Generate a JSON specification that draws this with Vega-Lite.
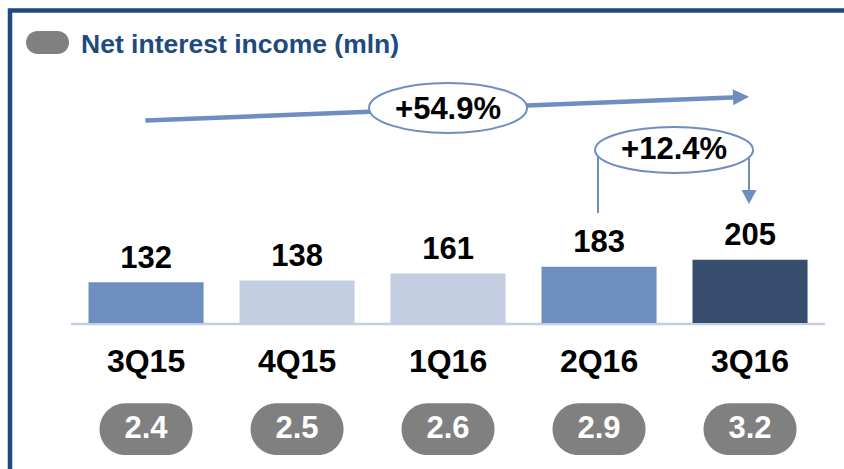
{
  "$schema": "https://vega.github.io/schema/vega-lite/v6.json",
  "width": 834,
  "height": 458.5,
  "padding": {"left": 10, "top": 10.5, "right": 0, "bottom": 0},
  "autosize": {"type": "none"},
  "background": "white",
  "config": {
    "view": {"stroke": "#1f4a7d", "strokeWidth": 4.5, "strokeDash": [834, 1292.5, 458.5]},
    "text": {"font": "Liberation Sans", "fontWeight": "bold"}
  },
  "datasets": {
    "nii": [
      {"quarter": "3Q15", "value": 132, "nim": 2.4},
      {"quarter": "4Q15", "value": 138, "nim": 2.5},
      {"quarter": "1Q16", "value": 161, "nim": 2.6},
      {"quarter": "2Q16", "value": 183, "nim": 2.9},
      {"quarter": "3Q16", "value": 205, "nim": 3.2}
    ]
  },
  "layer": [
    {
      "data": {"values": [{}]},
      "mark": {"type": "rule", "color": "#c3cee2", "strokeWidth": 2.5},
      "encoding": {
        "x": {"datum": "3Q15", "type": "nominal", "bandPosition": -0.152,
          "scale": {"domain": ["3Q15", "4Q15", "1Q16", "2Q16", "3Q16"], "paddingInner": 0.238, "paddingOuter": 0.3807, "align": 0.683}, "axis": null},
        "x2": {"datum": "3Q16", "bandPosition": 1.152},
        "y": {"datum": -3.25, "type": "quantitative", "scale": {"domain": [-474.03, 1014.61], "nice": false, "zero": false}, "axis": null}
      }
    },
    {
      "data": {"name": "nii"},
      "mark": {"type": "bar"},
      "encoding": {
        "x": {"field": "quarter", "type": "nominal",
          "scale": {"domain": ["3Q15", "4Q15", "1Q16", "2Q16", "3Q16"], "paddingInner": 0.238, "paddingOuter": 0.3807, "align": 0.683}, "axis": null},
        "y": {"field": "value", "type": "quantitative", "scale": {"domain": [-474.03, 1014.61], "nice": false, "zero": false}, "axis": null},
        "color": {"field": "quarter", "type": "nominal", "legend": null,
          "scale": {"domain": ["3Q15", "4Q15", "1Q16", "2Q16", "3Q16"], "range": ["#6d8ebf", "#c3cee2", "#c3cee2", "#6d8ebf", "#374d6e"]}}
      }
    },
    {
      "data": {"name": "nii"},
      "mark": {"type": "text", "fontSize": 31, "color": "#000000", "baseline": "alphabetic", "dy": -14.6},
      "encoding": {
        "x": {"field": "quarter", "type": "nominal"},
        "y": {"field": "value", "type": "quantitative"},
        "text": {"field": "value", "type": "quantitative"}
      }
    },
    {
      "data": {"name": "nii"},
      "mark": {"type": "text", "fontSize": 32, "color": "#000000", "baseline": "alphabetic"},
      "encoding": {
        "x": {"field": "quarter", "type": "nominal"},
        "y": {"datum": -160.7, "type": "quantitative"},
        "text": {"field": "quarter", "type": "nominal"}
      }
    },
    {
      "data": {"name": "nii"},
      "mark": {"type": "bar", "width": 93, "cornerRadius": 25.8, "color": "#808080"},
      "encoding": {
        "x": {"field": "quarter", "type": "nominal"},
        "y": {"datum": -260.7, "type": "quantitative"},
        "y2": {"datum": -428.6}
      }
    },
    {
      "data": {"name": "nii"},
      "mark": {"type": "text", "fontSize": 31, "color": "#ffffff", "baseline": "alphabetic"},
      "encoding": {
        "x": {"field": "quarter", "type": "nominal"},
        "y": {"datum": -374.4, "type": "quantitative"},
        "text": {"field": "nim", "type": "quantitative", "format": ".1f"}
      }
    },
    {
      "data": {"values": [{}]},
      "mark": {"type": "rule", "color": "#6d8ebf", "strokeWidth": 4.5, "strokeCap": "butt"},
      "encoding": {
        "x": {"datum": "3Q15", "type": "nominal", "bandPosition": 0.494},
        "x2": {"datum": "3Q16", "bandPosition": 0.395},
        "y": {"datum": 657.5, "type": "quantitative"},
        "y2": {"datum": 733.1}
      }
    },
    {
      "data": {"values": [{}]},
      "mark": {"type": "point", "shape": "M-2,-1 L0,0 L-2,1 Z", "size": 256, "filled": true, "fill": "#6d8ebf", "strokeWidth": 0, "opacity": 1, "angle": -2.26},
      "encoding": {
        "x": {"datum": "3Q16", "type": "nominal", "bandPosition": 0.491},
        "y": {"datum": 734.7, "type": "quantitative"}
      }
    },
    {
      "data": {"values": [{}]},
      "mark": {"type": "point", "shape": "M-1,0 C-1,-0.1748 -0.5523,-0.3165 0,-0.3165 C0.5523,-0.3165 1,-0.1748 1,0 C1,0.1748 0.5523,0.3165 0,0.3165 C-0.5523,0.3165 -1,0.1748 -1,0 Z", "size": 24964, "filled": true, "fill": "#ffffff", "stroke": "#6d8ebf", "strokeWidth": 2, "opacity": 1},
      "encoding": {
        "x": {"datum": "1Q16", "type": "nominal", "bandPosition": 0.5},
        "y": {"datum": 698.1, "type": "quantitative"}
      }
    },
    {
      "data": {"values": [{"label": "+54.9%"}]},
      "mark": {"type": "text", "fontSize": 31, "color": "#000000", "baseline": "alphabetic"},
      "encoding": {
        "x": {"datum": "1Q16", "type": "nominal", "bandPosition": 0.5},
        "y": {"datum": 662.3, "type": "quantitative"},
        "text": {"field": "label", "type": "nominal"}
      }
    },
    {
      "data": {"values": [{}]},
      "mark": {"type": "rule", "color": "#6d8ebf", "strokeWidth": 2},
      "encoding": {
        "x": {"datum": "2Q16", "type": "nominal", "bandPosition": 0.491},
        "y": {"datum": 357.1, "type": "quantitative"},
        "y2": {"datum": 561.7}
      }
    },
    {
      "data": {"values": [{}]},
      "mark": {"type": "rule", "color": "#6d8ebf", "strokeWidth": 2},
      "encoding": {
        "x": {"datum": "3Q16", "type": "nominal", "bandPosition": 0.491},
        "y": {"datum": 425.3, "type": "quantitative"},
        "y2": {"datum": 561.7}
      }
    },
    {
      "data": {"values": [{}]},
      "mark": {"type": "point", "shape": "M-1,-1.87 L1,-1.87 L0,0 Z", "size": 225, "filled": true, "fill": "#6d8ebf", "strokeWidth": 0, "opacity": 1},
      "encoding": {
        "x": {"datum": "3Q16", "type": "nominal", "bandPosition": 0.491},
        "y": {"datum": 386.4, "type": "quantitative"}
      }
    },
    {
      "data": {"values": [{}]},
      "mark": {"type": "point", "shape": "M-1,0 C-1,-0.1608 -0.5523,-0.2911 0,-0.2911 C0.5523,-0.2911 1,-0.1608 1,0 C1,0.1608 0.5523,0.2911 0,0.2911 C-0.5523,0.2911 -1,0.1608 -1,0 Z", "size": 24964, "filled": true, "fill": "#ffffff", "stroke": "#6d8ebf", "strokeWidth": 2, "opacity": 1},
      "encoding": {
        "x": {"datum": "2Q16", "type": "nominal", "bandPosition": 1.152},
        "y": {"datum": 561.7, "type": "quantitative"}
      }
    },
    {
      "data": {"values": [{"label": "+12.4%"}]},
      "mark": {"type": "text", "fontSize": 31, "color": "#000000", "baseline": "alphabetic"},
      "encoding": {
        "x": {"datum": "2Q16", "type": "nominal", "bandPosition": 1.152},
        "y": {"datum": 531.5, "type": "quantitative"},
        "text": {"field": "label", "type": "nominal"}
      }
    },
    {
      "data": {"values": [{}]},
      "mark": {"type": "point", "shape": "M-0.465,-0.535 L0.465,-0.535 C0.7605,-0.535 1,-0.2955 1,0 C1,0.2955 0.7605,0.535 0.465,0.535 L-0.465,0.535 C-0.7605,0.535 -1,0.2955 -1,0 C-1,-0.2955 -0.7605,-0.535 -0.465,-0.535 Z", "size": 1849, "filled": true, "fill": "#808080", "strokeWidth": 0, "opacity": 1},
      "encoding": {
        "x": {"datum": "3Q15", "type": "nominal", "bandPosition": -0.3563},
        "y": {"datum": 910.7, "type": "quantitative"}
      }
    },
    {
      "data": {"values": [{"label": "Net interest income (mln)"}]},
      "mark": {"type": "text", "fontSize": 26.5, "color": "#1f4a7f", "baseline": "alphabetic", "align": "left"},
      "encoding": {
        "x": {"datum": "3Q15", "type": "nominal", "bandPosition": -0.065},
        "y": {"datum": 876.6, "type": "quantitative"},
        "text": {"field": "label", "type": "nominal"}
      }
    }
  ]
}
